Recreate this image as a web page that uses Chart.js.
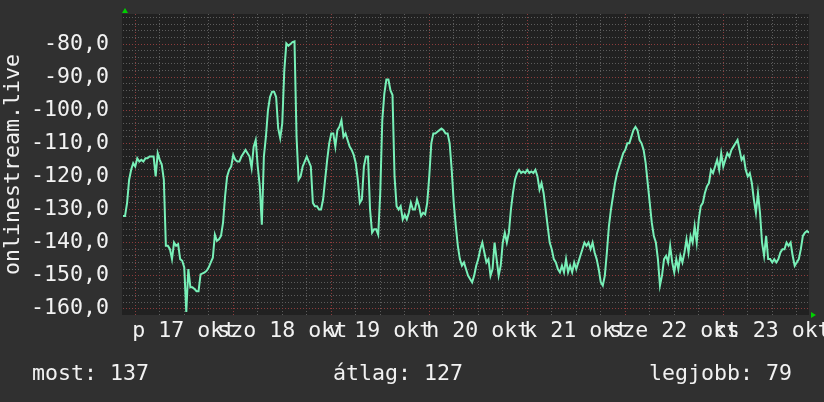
<!DOCTYPE html>
<html>
<head>
<meta charset="utf-8">
<script src="https://cdn.jsdelivr.net/npm/chart.js@4/dist/chart.umd.min.js"></script>
<style>
  html, body { margin: 0; padding: 0; background: #303030; }
  canvas { display: block; }
</style>
</head>
<body>
<canvas id="rrd" width="824" height="402"></canvas>
<script>
'use strict';

const FONT = '"DejaVu Sans Mono", "Liberation Mono", monospace';
const TEXT = '#f2f2f2';
const LINE = '#78f0b8';
const GRID_MINOR = '#5c5c5c';
const GRID_MAJOR = '#8c3c3c';

// ── Adatok ────────────────────────────────────────────────────────────────────
// 30 perces minták, okt 16 21:00-tól okt 23 21:00-ig
const stepHours = 0.5;
const startClock = 21;
const values = [
  -132, -132, -128, -121, -118, -116, -117, -114.5, -115.5, -115,
  -115.5, -114.5, -114.5, -114, -114, -114, -120, -113, -115, -116.5,
  -121, -141, -141, -142, -145, -140, -141, -140.5, -145, -145.5,
  -147.5, -161, -148, -153.5, -153.5, -154, -154.7, -154.7, -149.6, -149.3,
  -149, -148.5, -147.5, -146, -144.6, -137.6, -139.5, -139, -138, -134,
  -126, -120, -118, -117, -113.5, -115, -115.5, -115.5, -114, -113,
  -112, -113, -114, -117.5, -111, -109, -117, -123, -134.6, -114,
  -108, -100, -96, -94.4, -94.4, -96, -105.4, -108.4, -104, -88,
  -79.8, -80.5, -80, -79.4, -79.2, -108, -121, -120, -117, -115.5,
  -114, -115.5, -117, -128, -129, -129, -130, -130, -127, -121,
  -115, -110, -107, -107, -111, -106, -105, -103, -108, -107,
  -109, -111, -112, -113.5, -116, -121, -128, -127, -117, -114,
  -114, -130, -137, -136, -136, -137.6, -125, -103, -95, -90.7,
  -90.7, -94, -95.4, -120, -129, -130, -129, -133, -131.6, -133,
  -131, -128, -130, -130, -127, -129, -132, -131, -131.5, -128,
  -120, -110, -107, -107, -106.5, -106, -105.5, -106, -107, -107,
  -110, -118, -128, -135, -141, -145, -147, -146, -148, -150,
  -151, -152, -150, -147, -145, -142, -140, -143, -146, -145,
  -150, -148, -140, -145, -150, -147, -140, -137, -140, -137,
  -130, -125, -121, -119, -118, -119, -118.5, -119, -118, -119,
  -118.5, -119, -118, -120, -124, -122, -125, -130, -135, -140,
  -142, -145, -146, -148, -149, -147, -149, -145, -149, -147,
  -149, -146, -148, -146, -144, -142, -140, -141, -140, -142,
  -140, -143, -145, -148, -152, -153, -150, -143, -135, -130,
  -126, -122, -119, -117, -115, -113, -112, -110, -110, -108,
  -106, -105, -106, -109, -110, -112, -116, -122, -128, -134,
  -138, -140, -145, -153, -150, -145, -144, -146, -141, -146,
  -149, -145, -148, -144, -146, -143, -139, -143, -138, -140,
  -135, -140, -133, -129, -128, -125, -123, -122, -118, -119,
  -117, -115, -118, -113, -117, -115, -113, -114, -112, -111,
  -110, -109, -112, -115, -114, -118, -120, -119, -122, -127,
  -131, -125, -131, -140, -144, -138, -145, -145, -146, -145,
  -146, -145, -143, -142, -142, -140, -141, -140, -144, -147,
  -146, -145, -142, -138, -137, -136.5, -137,
];

const dayLabels = ['p 17 okt', 'szo 18 okt', 'v 19 okt', 'h 20 okt', 'k 21 okt', 'sze 22 okt', 'cs 23 okt'];
const dayNoonHours = [15, 39, 63, 87, 111, 135, 159];
const yLabelValues = [-80, -90, -100, -110, -120, -130, -140, -150, -160];
const legendTexts = ['most: 137', 'átlag: 127', 'legjobb: 79'];
const legendX = [32, 333, 649];

const totalHours = (values.length - 1) * stepHours;
const points = values.map((v, i) => ({ x: i * stepHours, y: v }));

// 3 óránkénti osztások (rács 6 óránként, címke délben)
const xTicks = [];
for (let h = 0; h <= totalHours; h += 3) xTicks.push({ value: h });
const yTicks = [];
for (let v = -160; v <= -72; v += 2) yTicks.push({ value: v });

function clockOf(h) { return (startClock + h) % 24; }

// ── Pluginok ──────────────────────────────────────────────────────────────────

const rrdBackground = {
  id: 'rrdBackground',
  beforeDraw(chart) {
    const { ctx, chartArea: a } = chart;
    ctx.save();
    ctx.fillStyle = '#303030';
    ctx.fillRect(0, 0, chart.width, chart.height);
    ctx.fillStyle = '#212121';
    ctx.fillRect(a.left - 1, a.top, a.right - a.left + 1, a.bottom - a.top);
    ctx.restore();
  },
};

const rrdDecor = {
  id: 'rrdDecor',
  afterDraw(chart) {
    const { ctx, chartArea: a } = chart;
    ctx.save();
    // nyilak
    ctx.fillStyle = '#00d000';
    ctx.beginPath();
    ctx.moveTo(a.left - 1, a.top - 1); ctx.lineTo(a.left + 5, a.top - 1); ctx.lineTo(a.left + 2, a.top - 6);
    ctx.closePath(); ctx.fill();
    ctx.beginPath();
    ctx.moveTo(a.right + 2, a.bottom - 3); ctx.lineTo(a.right + 2, a.bottom + 3); ctx.lineTo(a.right + 7, a.bottom);
    ctx.closePath(); ctx.fill();
    // jelmagyarázat
    ctx.fillStyle = TEXT;
    ctx.font = '21.6px ' + FONT;
    ctx.textBaseline = 'alphabetic';
    ctx.textAlign = 'left';
    legendTexts.forEach((t, i) => ctx.fillText(t, legendX[i], 380));
    ctx.restore();
  },
};

// ── Diagram ───────────────────────────────────────────────────────────────────

new Chart(document.getElementById('rrd'), {
  type: 'line',
  data: {
    datasets: [{
      data: points,
      borderColor: LINE,
      borderWidth: 2,
      pointRadius: 0,
      tension: 0,
      fill: false,
    }],
  },
  options: {
    responsive: false,
    maintainAspectRatio: false,
    animation: false,
    devicePixelRatio: 1,
    layout: { padding: { top: 14, right: 15, left: 0, bottom: 47 } },
    plugins: { legend: { display: false }, tooltip: { enabled: false } },
    scales: {
      x: {
        type: 'linear',
        min: 0,
        max: totalHours,
        afterBuildTicks: s => { s.ticks = xTicks.map(t => ({ ...t })); },
        afterFit: s => { s.height = 40; s.paddingLeft = 0; s.paddingRight = 0; },
        grid: {
          drawTicks: false,
          lineWidth: 1,
          color: c => {
            if (!c.tick) return 'transparent';
            const k = clockOf(c.tick.value);
            if (k === 0) return GRID_MAJOR;
            if (k % 6 === 0) return GRID_MINOR;
            return 'transparent';
          },
        },
        border: { display: false, dash: [1, 2] },
        ticks: {
          autoSkip: false,
          maxRotation: 0,
          minRotation: 0,
          padding: 3,
          color: TEXT,
          font: { family: FONT, size: 21.6 },
          callback: v => {
            const i = dayNoonHours.indexOf(v);
            return i >= 0 ? dayLabels[i] : '';
          },
        },
      },
      y: {
        min: -161.9,
        max: -70.9,
        afterBuildTicks: s => { s.ticks = yTicks.map(t => ({ ...t })); },
        afterFit: s => { s.width = 123; s.paddingTop = 0; s.paddingBottom = 0; },
        grid: {
          drawTicks: false,
          lineWidth: 1,
          color: c => (c.tick && c.tick.value % 10 === 0 ? GRID_MAJOR : GRID_MINOR),
        },
        border: { display: false, dash: [1, 2] },
        ticks: {
          autoSkip: false,
          padding: 14,
          color: TEXT,
          font: { family: FONT, size: 21.6 },
          callback: v => (yLabelValues.includes(v) ? v.toFixed(1).replace('.', ',') : ''),
        },
        title: {
          display: true,
          text: 'onlinestream.live',
          color: TEXT,
          font: { family: FONT, size: 21.6 },
          padding: 0,
        },
      },
    },
  },
  plugins: [rrdBackground, rrdDecor],
});
</script>
</body>
</html>
